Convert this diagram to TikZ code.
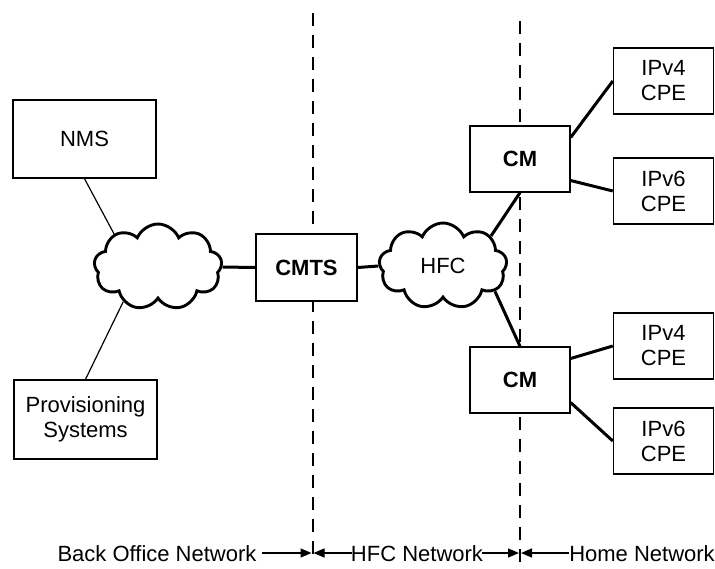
\documentclass[tikz,border=0pt]{standalone}
\usepackage{fontspec}
\setmainfont{Liberation Sans}
\usetikzlibrary{shapes.symbols,arrows.meta}
\begin{document}
\begin{tikzpicture}[x=1pt,y=-1pt,
  box/.style={draw,line width=1.4pt,fill=white,inner sep=0pt,align=center,font=\fontsize{22}{25}\selectfont},
  cloudy/.style={cloud,cloud puffs=9,cloud puff arc=135,aspect=1.5,draw,line width=2.9pt,fill=white,inner sep=0pt,minimum width=128pt,minimum height=86pt,font=\fontsize{22}{25}\selectfont},
  thin/.style={line width=1.2pt},
  thick/.style={line width=3pt},
  divider/.style={line width=2pt,dash pattern=on 13pt off 9pt},
  lbl/.style={font=\fontsize{22}{25}\selectfont,inner sep=0pt},
  arr/.style={line width=1.4pt,-{Triangle[length=11pt,width=9pt]}}]
\useasboundingbox (0,0) rectangle (715,568);
% dividers
\coordinate (d1t) at (312.5,13);
\coordinate (d1b) at (312.5,562);
\coordinate (d2t) at (520,21);
\coordinate (d2b) at (520,568);
\draw[divider] (d1t) -- (d1b);
\draw[divider] (d2t) -- (d2b);
% nodes
\node[box,minimum width=143pt,minimum height=78pt] (nms) at (84.5,139) {NMS};
\node[box,minimum width=143pt,minimum height=79pt] (prov) at (85.5,419.5) {Provisioning\\Systems};
\node[cloudy] (lc) at (158,267) {};
\node[box,minimum width=101pt,minimum height=67pt,font=\fontsize{22}{25}\selectfont\bfseries] (cmts) at (306.5,267.5) {CMTS};
\node[cloudy] (hfc) at (443,266) {HFC};
\node[box,minimum width=100pt,minimum height=66pt,font=\fontsize{22}{25}\selectfont\bfseries] (cm1) at (520,159) {CM};
\node[box,minimum width=100pt,minimum height=66pt,font=\fontsize{22}{25}\selectfont\bfseries] (cm2) at (520,380) {CM};
\node[box,minimum width=100pt,minimum height=66pt] (v4a) at (663.5,81) {IPv4\\CPE};
\node[box,minimum width=100pt,minimum height=66pt] (v6a) at (663.5,191) {IPv6\\CPE};
\node[box,minimum width=100pt,minimum height=66pt] (v4b) at (663.5,346) {IPv4\\CPE};
\node[box,minimum width=100pt,minimum height=66pt] (v6b) at (663.5,441) {IPv6\\CPE};
% connectors
\draw[thin] (nms.south) -- (lc.143);
\draw[thin] (prov.north) -- (lc.225);
\draw[thick] (lc.east) -- (cmts.west);
\draw[thick] (cmts.east) -- (hfc.west);
\draw[thick] (hfc.32) -- (cm1.south);
\draw[thick] (hfc.-26) -- (cm2.north);
\draw[thick] (cm1.23.7) -- (v4a.west);
\draw[thick] (cm1.-23.7) -- (v6a.west);
\draw[thick] (cm2.23.7) -- (v4b.west);
\draw[thick] (cm2.-24) -- (v6b.west);
% bottom labels
\node[lbl,anchor=base] (bo) at (157,561) {Back Office Network};
\node[lbl,anchor=base] (hn) at (417,561) {HFC Network};
\node[lbl,anchor=base] (ho) at (642,561) {Home Network};
\coordinate (a1s) at (262,553);
\coordinate (a1e) at (311.5,553);
\coordinate (a2s) at (352,553);
\coordinate (a2e) at (313.5,553);
\coordinate (a3s) at (482,553);
\coordinate (a3e) at (519,553);
\coordinate (a4s) at (569,553);
\coordinate (a4e) at (521,553);
\draw[arr] (a1s) -- (a1e);
\draw[arr] (a2s) -- (a2e);
\draw[arr] (a3s) -- (a3e);
\draw[arr] (a4s) -- (a4e);
\end{tikzpicture}
\end{document}
